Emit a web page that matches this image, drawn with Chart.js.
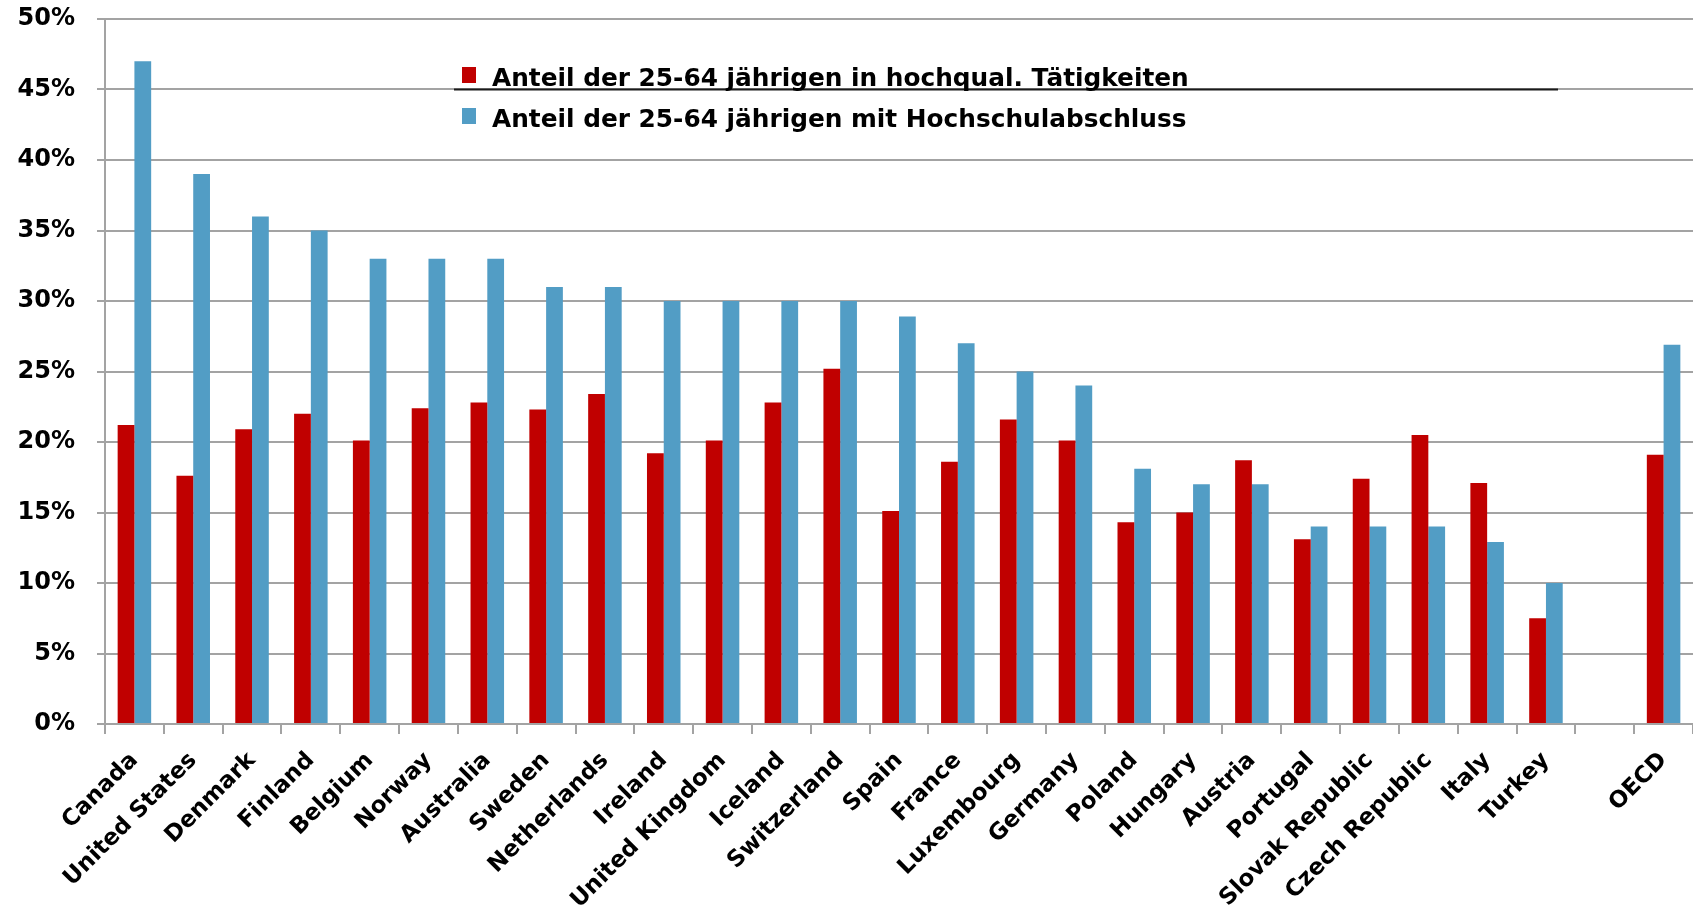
<!DOCTYPE html>
<html>
<head>
<meta charset="utf-8">
<title>Hochqualifizierte Tätigkeiten vs. Hochschulabschluss</title>
<script src="https://cdn.jsdelivr.net/npm/chart.js@4/dist/chart.umd.min.js"></script>
<style>
  body { margin: 0; background: #fff; }
  #chart-box { width: 1693px; height: 905px; }
</style>
</head>
<body>
<div id="chart-box"><canvas id="my-chart" width="1693" height="905"></canvas></div>
<script>
'use strict';

// ******* DATA ********

let countries = ['Canada', 'United States', 'Denmark', 'Finland', 'Belgium', 'Norway', 'Australia',
  'Sweden', 'Netherlands', 'Ireland', 'United Kingdom', 'Iceland', 'Switzerland', 'Spain', 'France',
  'Luxembourg', 'Germany', 'Poland', 'Hungary', 'Austria', 'Portugal', 'Slovak Republic',
  'Czech Republic', 'Italy', 'Turkey', '', 'OECD'];

// share of 25-64 year olds in highly qualified jobs (%)
let jobShare = [21.2, 17.6, 20.9, 22.0, 20.1, 22.4, 22.8, 22.3, 23.4, 19.2, 20.1, 22.8, 25.2, 15.1,
  18.6, 21.6, 20.1, 14.3, 15.0, 18.7, 13.1, 17.4, 20.5, 17.1, 7.5, null, 19.1];

// share of 25-64 year olds with tertiary degree (%)
let degreeShare = [47.0, 39.0, 36.0, 35.0, 33.0, 33.0, 33.0, 31.0, 31.0, 30.0, 30.0, 30.0, 30.0, 28.9,
  27.0, 25.0, 24.0, 18.1, 17.0, 17.0, 14.0, 14.0, 14.0, 12.9, 10.0, null, 26.9];

let seriesLabels = ['Anteil der 25-64 jährigen in hochqual. Tätigkeiten',
  'Anteil der 25-64 jährigen mit Hochschulabschluss'];

let yTicks = [0, 5, 10, 15, 20, 25, 30, 35, 40, 45, 50];

// ******* STYLE ********

let redColor = '#C00000';
let blueColor = '#529DC5';
let gridColor = '#A3A3A3';
let fontFamily = '"DejaVu Sans", Verdana, sans-serif';

// ******* CANVAS ELEMENT FOR CHART *****
let ctx = document.getElementById('my-chart');

// ****** PLUGINS ******

// legend sits inside the plot, drawn by hand
let legendBox = {
  id: 'legendBox',
  afterDatasetsDraw(chart) {
    let c = chart.ctx;
    let yScale = chart.scales.y;
    let markX = 462;
    let textX = 492;
    let rows = [86, 127];

    // the dark stroke across the 45% line behind the legend
    let lineY = yScale.getPixelForValue(yTicks[9]);
    c.save();
    c.strokeStyle = '#1a1a1a';
    c.lineWidth = 2;
    c.beginPath();
    c.moveTo(markX - 8, lineY);
    c.lineTo(1558, lineY);
    c.stroke();

    c.font = 'bold 24.8px ' + fontFamily;
    c.textBaseline = 'alphabetic';
    c.textAlign = 'left';
    chart.data.datasets.forEach(function(ds, i) {
      c.fillStyle = ds.backgroundColor;
      c.fillRect(markX, rows[i] - 19, 14, 16);
      c.fillStyle = '#000';
      c.fillText(ds.label, textX, rows[i]);
    });
    c.restore();
  }
};

let whiteBg = {
  id: 'whiteBg',
  beforeDraw(chart) {
    let c = chart.ctx;
    c.save();
    c.fillStyle = '#fff';
    c.fillRect(0, 0, chart.width, chart.height);
    c.restore();
  }
};

// ****** CHART ******
function renderChart(){
  let chartObj = {
    type: 'bar',
    data: {
      labels: countries,
      datasets: [{
        label: seriesLabels[0],
        data: jobShare,
        backgroundColor: redColor,
        borderWidth: 0
      },
      {
        label: seriesLabels[1],
        data: degreeShare,
        backgroundColor: blueColor,
        borderWidth: 0
      }]
    },
    options: {
      responsive: false,
      animation: false,
      layout: {
        padding: { top: 19, right: 0, left: 0, bottom: 0 }
      },
      datasets: {
        bar: {
          categoryPercentage: 0.57,
          barPercentage: 1.0
        }
      },
      plugins: {
        legend: { display: false },
        tooltip: { enabled: false }
      },
      scales: {
        x: {
          offset: true,
          grid: {
            offset: true,
            drawOnChartArea: false,
            drawTicks: true,
            tickLength: 10,
            color: gridColor,
            lineWidth: 2
          },
          border: { color: gridColor, width: 2 },
          ticks: {
            autoSkip: false,
            maxRotation: 45,
            minRotation: 45,
            padding: 13,
            color: '#000',
            font: { family: fontFamily, size: 23, weight: 'bold' }
          },
          afterFit: function(scale) {
            scale.height = 181;
            scale.paddingLeft = 0;
            scale.paddingRight = 0;
          }
        },
        y: {
          min: 0,
          max: 50,
          afterBuildTicks: function(scale) {
            scale.ticks = yTicks.map(function(v) { return { value: v }; });
          },
          grid: {
            color: gridColor,
            lineWidth: 2,
            tickLength: 8
          },
          border: { color: gridColor, width: 2 },
          ticks: {
            padding: 22,
            color: '#000',
            font: { family: fontFamily, size: 24, weight: 'bold' },
            callback: function(value) {
              return value + '%';
            }
          },
          afterFit: function(scale) {
            scale.width = 105;
            scale.paddingTop = 0;
            scale.paddingBottom = 0;
          }
        }
      }
    },
    plugins: [whiteBg, legendBox]
  };

  new Chart(ctx, chartObj); //eslint-disable-line
}

renderChart();
</script>
</body>
</html>
